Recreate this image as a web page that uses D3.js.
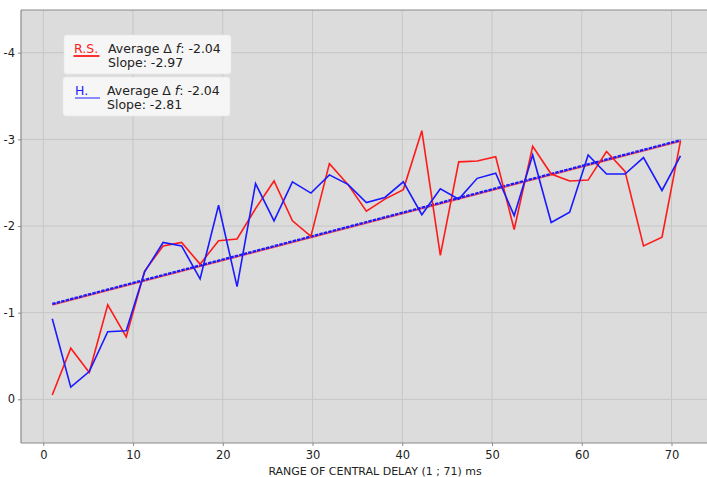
<!DOCTYPE html>
<html>
<head>
<meta charset="utf-8">
<script src="https://cdn.jsdelivr.net/npm/d3@7"></script>
<style>
    body { margin: 0; background: #ffffff; }
    svg { display: block; font-family: "DejaVu Sans", sans-serif; }
</style>
</head>
<body>
<svg id="chart" width="707" height="477"></svg>
<script>
// delay positions (ms) and the two series
var xValues = [1, 3.06, 5.12, 7.18, 9.24, 11.29, 13.35, 15.41, 17.47, 19.53, 21.59, 23.65,
    25.71, 27.76, 29.82, 31.88, 33.94, 36, 38.06, 40.12, 42.18, 44.24, 46.29, 48.35,
    50.41, 52.47, 54.53, 56.59, 58.65, 60.71, 62.76, 64.82, 66.88, 68.94, 71]

var redValues = [-0.05, -0.59, -0.31, -1.09, -0.72, -1.48, -1.77, -1.81, -1.56, -1.83, -1.85, -2.2,
    -2.52, -2.06, -1.88, -2.72, -2.48, -2.17, -2.31, -2.42, -3.10, -1.66, -2.74, -2.75,
    -2.80, -1.96, -2.92, -2.60, -2.52, -2.53, -2.86, -2.63, -1.77, -1.87, -2.98]

var blueValues = [-0.93, -0.14, -0.32, -0.78, -0.79, -1.47, -1.81, -1.77, -1.39, -2.24, -1.30, -2.49,
    -2.06, -2.51, -2.38, -2.59, -2.48, -2.27, -2.33, -2.51, -2.13, -2.43, -2.31, -2.55,
    -2.61, -2.12, -2.82, -2.04, -2.16, -2.82, -2.60, -2.60, -2.79, -2.41, -2.81]

// fitted lines, start and end
var trendX = [1, 71]
var redTrend = [-1.09, -2.98]
var blueTrend = [-1.10, -2.99]

var xTicks = [0, 10, 20, 30, 40, 50, 60, 70]
var yTicks = [0, -1, -2, -3, -4]

var legendNames = ["R.S.", "H."]
var legendColors = ["#ff1a1a", "#1a1aff"]
var legendAverages = ["-2.04", "-2.04"]
var legendSlopes = ["-2.97", "-2.81"]

var xLabel = "RANGE OF CENTRAL DELAY (1 ; 71) ms"

class DelayPlot
{
    constructor(config)
    {
        this.svg    = d3.select(config.parent)
        this.left   = config.left
        this.top    = config.top
        this.right  = config.right
        this.bottom = config.bottom
    }

    build()
    {
        var svg = this.svg
        var left = this.left, top = this.top, right = this.right, bottom = this.bottom

        this.xScale = d3.scaleLinear().domain([0, 70]).range([43.3, 671.5])
        this.yScale = d3.scaleLinear().domain([0, -4]).range([399.3, 52.7])
        var xScale = this.xScale
        var yScale = this.yScale

        svg.append("rect")
            .attr("x", left).attr("y", top)
            .attr("width", right - left).attr("height", bottom - top)
            .attr("fill", "#dcdcdc")

        // grid
        svg.append("g").selectAll("line")
            .data(xTicks).enter().append("line")
            .attr("x1", function(d){return xScale(d)}).attr("x2", function(d){return xScale(d)})
            .attr("y1", top).attr("y2", bottom)
            .attr("stroke", "#c6c6c6").attr("stroke-width", 1)
        svg.append("g").selectAll("line")
            .data(yTicks).enter().append("line")
            .attr("x1", left).attr("x2", right)
            .attr("y1", function(d){return yScale(d)}).attr("y2", function(d){return yScale(d)})
            .attr("stroke", "#c6c6c6").attr("stroke-width", 1)

        // spines
        svg.append("line").attr("x1", left).attr("x2", right).attr("y1", top).attr("y2", top)
            .attr("stroke", "#8a8a8a").attr("stroke-width", 1.2)
        svg.append("line").attr("x1", left).attr("x2", left).attr("y1", top).attr("y2", bottom)
            .attr("stroke", "#8a8a8a").attr("stroke-width", 1.2)
        svg.append("line").attr("x1", left).attr("x2", right).attr("y1", bottom).attr("y2", bottom)
            .attr("stroke", "#8a8a8a").attr("stroke-width", 1.2)

        // axes
        var xAxis = svg.append("g")
            .attr("transform", "translate(0," + bottom + ")")
            .call(d3.axisBottom(xScale).tickValues(xTicks).tickSize(3).tickPadding(5).tickFormat(d3.format("d")))
        var yAxis = svg.append("g")
            .attr("transform", "translate(" + left + ",0)")
            .call(d3.axisLeft(yScale).tickValues(yTicks).tickSize(3).tickPadding(3).tickFormat(function(d){return d === 0 ? "0" : "-" + Math.abs(d)}))
        ;[xAxis, yAxis].forEach(function(a)
        {
            a.select(".domain").remove()
            a.selectAll("line").attr("stroke", "#8a8a8a")
            a.selectAll("text").attr("fill", "#222").style("font-size", "11.5px").style("font-family", "DejaVu Sans")
        })

        svg.append("text")
            .attr("x", 375).attr("y", 475)
            .attr("text-anchor", "middle")
            .attr("fill", "#222")
            .style("font-size", "11px")
            .text(xLabel)

        // fitted lines: red underneath, blue dashed on top
        var trendLine = d3.line()
            .x(function(d){return xScale(d[0])})
            .y(function(d){return yScale(d[1])})
        svg.append("path")
            .attr("d", trendLine(d3.zip(trendX, redTrend)))
            .attr("fill", "none").attr("stroke", "#ff3030").attr("stroke-width", 1.8)
            .attr("opacity", 0.8)
        svg.append("path")
            .attr("d", trendLine(d3.zip(trendX, blueTrend)))
            .attr("fill", "none").attr("stroke", legendColors[1]).attr("stroke-width", 2.3)
            .attr("stroke-dasharray", "3.5,1.1")

        // series
        var seriesLine = d3.line()
            .x(function(d){return xScale(d[0])})
            .y(function(d){return yScale(d[1])})
        svg.append("path")
            .attr("d", seriesLine(d3.zip(xValues, redValues)))
            .attr("fill", "none").attr("stroke", legendColors[0]).attr("stroke-width", 1.6)
            .attr("stroke-linejoin", "miter")
        svg.append("path")
            .attr("d", seriesLine(d3.zip(xValues, blueValues)))
            .attr("fill", "none").attr("stroke", legendColors[1]).attr("stroke-width", 1.6)
            .attr("stroke-linejoin", "miter")

        this.buildLegend()
    }

    buildLegend()
    {
        var svg = this.svg
        var boxes = [{x: 64, y: 35}, {x: 63, y: 77}]

        legendNames.forEach(function(name, i)
        {
            var b = boxes[i]
            var g = svg.append("g").attr("transform", "translate(" + b.x + "," + b.y + ")")
            g.append("rect")
                .attr("width", 167).attr("height", 39).attr("rx", 3)
                .attr("fill", "#f6f6f6").attr("stroke", "#e8e8e8").attr("stroke-width", 0.6)
            g.append("text")
                .attr("x", i === 0 ? 10 : 12).attr("y", 17.5)
                .attr("fill", legendColors[i])
                .style("font-size", "12.5px")
                .text(name)
            g.append("line")
                .attr("x1", i === 0 ? 9.5 : 12).attr("x2", i === 0 ? 35.5 : 37)
                .attr("y1", 21).attr("y2", 21)
                .attr("stroke", legendColors[i]).attr("stroke-width", i === 0 ? 1.8 : 1.3)
                .attr("opacity", i === 0 ? 1 : 0.75)
            var t1 = g.append("text")
                .attr("x", 44).attr("y", 17.5)
                .attr("fill", "#222")
                .style("font-size", "12.5px")
            t1.append("tspan").text("Average \u0394 ")
            t1.append("tspan").style("font-style", "italic").text("f")
            t1.append("tspan").text(": " + legendAverages[i])
            g.append("text")
                .attr("x", 44).attr("y", 31.5)
                .attr("fill", "#222")
                .style("font-size", "12.5px")
                .text("Slope: " + legendSlopes[i])
        })
    }
}

var plot = new DelayPlot({parent: "#chart", left: 21, top: 10, right: 707, bottom: 443})
plot.build()
</script>
</body>
</html>
